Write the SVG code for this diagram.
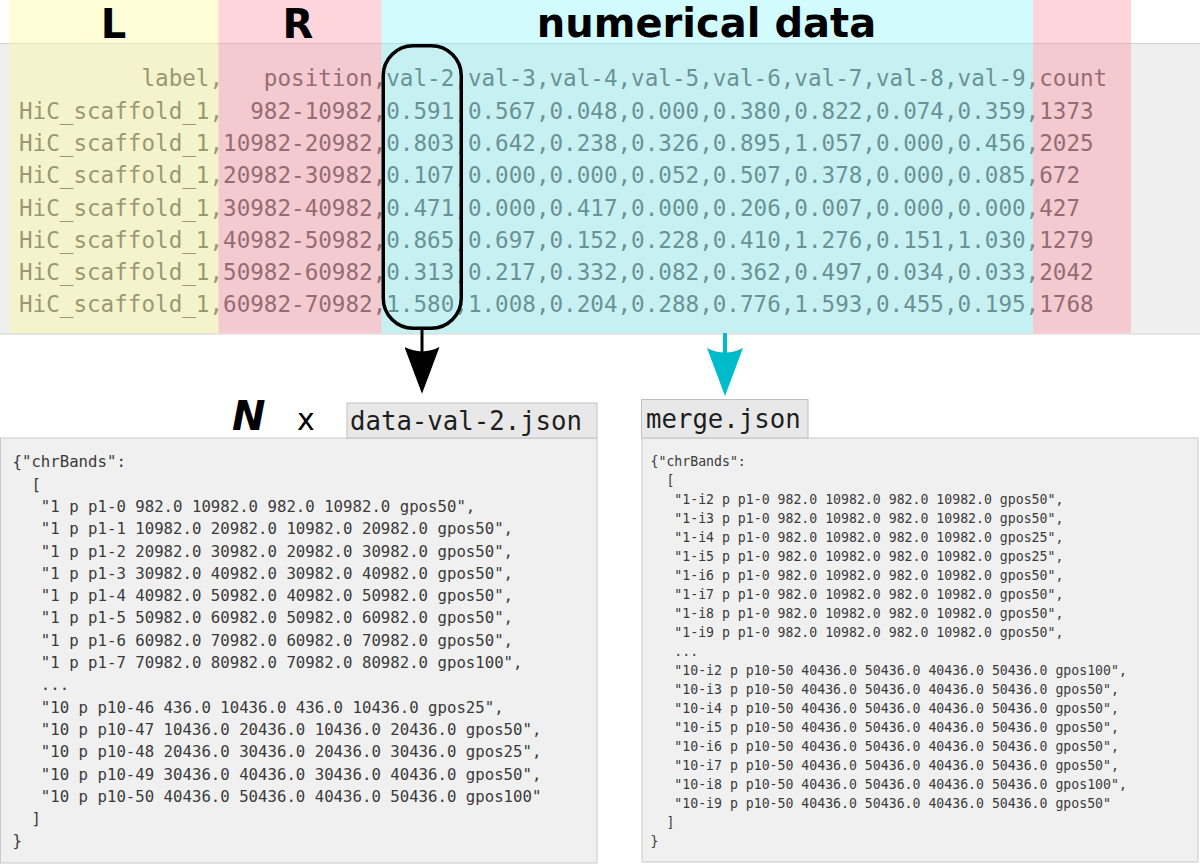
<svg xmlns="http://www.w3.org/2000/svg" width="1200" height="864" viewBox="0 0 1200 864">
<style>
.hdr{font-family:"DejaVu Sans",Verdana,sans-serif;font-weight:bold;font-size:40px;fill:#000}
.tbl text{font-family:"DejaVu Sans Mono",monospace;font-size:22.6px;fill:#5e5e5e;white-space:pre}
.codeL text{font-family:"DejaVu Sans Mono",monospace;font-size:15.7px;fill:#3a3a3a;white-space:pre}
.codeR text{font-family:"DejaVu Sans Mono",monospace;font-size:13.2px;fill:#3a3a3a;white-space:pre}
.tabt{font-family:"DejaVu Sans Mono",monospace;font-size:25.7px;fill:#1e1e1e}
.box{fill:#f0f0f0;stroke:#c9c9c9;stroke-width:1}
.tab{fill:#e8e8e8;stroke:#c0c0c0;stroke-width:1}
</style>
<defs>
<marker id="headK" viewBox="0 0 48 36" refX="39" refY="18" markerWidth="48" markerHeight="35" markerUnits="userSpaceOnUse" orient="auto">
<path d="M0,0 L48,18 L0,36 Q9,18 0,0 Z" fill="#000"/>
</marker>
<marker id="headC" viewBox="0 0 48 36" refX="39" refY="18" markerWidth="48" markerHeight="36" markerUnits="userSpaceOnUse" orient="auto">
<path d="M0,0 L48,18 L0,36 Q9,18 0,0 Z" fill="#00bccb"/>
</marker>
</defs>
<rect width="1200" height="864" fill="#ffffff"/>

<g id="table">
<rect x="-1" y="43.5" width="1202" height="290.5" fill="#efefef" stroke="#d2d2d2" stroke-width="1"/>
<g class="tbl">
<text xml:space="preserve" x="19" y="86.3">         label,   position,val-2,val-3,val-4,val-5,val-6,val-7,val-8,val-9,count</text>
<text xml:space="preserve" x="19" y="118.6">HiC_scaffold_1,  982-10982,0.591,0.567,0.048,0.000,0.380,0.822,0.074,0.359,1373</text>
<text xml:space="preserve" x="19" y="150.9">HiC_scaffold_1,10982-20982,0.803,0.642,0.238,0.326,0.895,1.057,0.000,0.456,2025</text>
<text xml:space="preserve" x="19" y="183.2">HiC_scaffold_1,20982-30982,0.107,0.000,0.000,0.052,0.507,0.378,0.000,0.085,672</text>
<text xml:space="preserve" x="19" y="215.5">HiC_scaffold_1,30982-40982,0.471,0.000,0.417,0.000,0.206,0.007,0.000,0.000,427</text>
<text xml:space="preserve" x="19" y="247.8">HiC_scaffold_1,40982-50982,0.865,0.697,0.152,0.228,0.410,1.276,0.151,1.030,1279</text>
<text xml:space="preserve" x="19" y="280.1">HiC_scaffold_1,50982-60982,0.313,0.217,0.332,0.082,0.362,0.497,0.034,0.033,2042</text>
<text xml:space="preserve" x="19" y="312.4">HiC_scaffold_1,60982-70982,1.580,1.008,0.204,0.288,0.776,1.593,0.455,0.195,1768</text>
</g>
</g>

<g id="column-L">
<rect x="9.5" y="0" width="209" height="333" fill="rgb(252,249,143)" fill-opacity="0.375"/>
<text class="hdr" x="113.5" y="37.5" text-anchor="middle">L</text>
</g>
<g id="column-R">
<rect x="218.5" y="0" width="163" height="333" fill="rgb(249,135,152)" fill-opacity="0.35"/>
<rect x="1033" y="0" width="98" height="333" fill="rgb(249,135,152)" fill-opacity="0.35"/>
<text class="hdr" x="298" y="37.5" text-anchor="middle">R</text>
</g>
<g id="column-numerical">
<rect x="381.5" y="0" width="651.5" height="333" fill="rgb(126,243,249)" fill-opacity="0.35"/>
<text class="hdr" x="706.5" y="36.5" text-anchor="middle">numerical data</text>
</g>

<g id="val2-highlight">
<rect x="383.25" y="45.75" width="78" height="282.5" rx="30" ry="30" fill="none" stroke="#000" stroke-width="3.5"/>
</g>

<g id="connectors">
<line x1="422" y1="330" x2="422" y2="385" stroke="#000" stroke-width="3" marker-end="url(#headK)"/>
<line x1="725" y1="333" x2="725" y2="387" stroke="#00bccb" stroke-width="4" marker-end="url(#headC)"/>
</g>

<g id="multiplier">
<text x="232" y="430" font-family="DejaVu Sans,Verdana,sans-serif" font-weight="bold" font-style="italic" font-size="40" fill="#000">N</text>
<text x="297" y="430" font-family="DejaVu Sans,Verdana,sans-serif" font-size="30" fill="#000">x</text>
</g>

<g id="data-val-2-json">
<rect class="box" x="0.5" y="438" width="596.5" height="425"/>
<rect class="tab" x="347" y="403" width="250" height="35"/>
<text class="tabt" x="350" y="430">data-val-2.json</text>
<g class="codeL">
<text xml:space="preserve" x="12.5" y="467.3">{"chrBands":</text>
<text xml:space="preserve" x="12.5" y="489.6">  [</text>
<text xml:space="preserve" x="12.5" y="511.9">   "1 p p1-0 982.0 10982.0 982.0 10982.0 gpos50",</text>
<text xml:space="preserve" x="12.5" y="534.2">   "1 p p1-1 10982.0 20982.0 10982.0 20982.0 gpos50",</text>
<text xml:space="preserve" x="12.5" y="556.5">   "1 p p1-2 20982.0 30982.0 20982.0 30982.0 gpos50",</text>
<text xml:space="preserve" x="12.5" y="578.8">   "1 p p1-3 30982.0 40982.0 30982.0 40982.0 gpos50",</text>
<text xml:space="preserve" x="12.5" y="601.1">   "1 p p1-4 40982.0 50982.0 40982.0 50982.0 gpos50",</text>
<text xml:space="preserve" x="12.5" y="623.4">   "1 p p1-5 50982.0 60982.0 50982.0 60982.0 gpos50",</text>
<text xml:space="preserve" x="12.5" y="645.7">   "1 p p1-6 60982.0 70982.0 60982.0 70982.0 gpos50",</text>
<text xml:space="preserve" x="12.5" y="668.0">   "1 p p1-7 70982.0 80982.0 70982.0 80982.0 gpos100",</text>
<text xml:space="preserve" x="12.5" y="690.3">   ...</text>
<text xml:space="preserve" x="12.5" y="712.6">   "10 p p10-46 436.0 10436.0 436.0 10436.0 gpos25",</text>
<text xml:space="preserve" x="12.5" y="734.9">   "10 p p10-47 10436.0 20436.0 10436.0 20436.0 gpos50",</text>
<text xml:space="preserve" x="12.5" y="757.2">   "10 p p10-48 20436.0 30436.0 20436.0 30436.0 gpos25",</text>
<text xml:space="preserve" x="12.5" y="779.5">   "10 p p10-49 30436.0 40436.0 30436.0 40436.0 gpos50",</text>
<text xml:space="preserve" x="12.5" y="801.8">   "10 p p10-50 40436.0 50436.0 40436.0 50436.0 gpos100"</text>
<text xml:space="preserve" x="12.5" y="824.1">  ]</text>
<text xml:space="preserve" x="12.5" y="846.4">}</text>
</g>
</g>

<g id="merge-json">
<rect class="box" x="642" y="438" width="556" height="424"/>
<rect class="tab" x="641.5" y="399.5" width="166.5" height="38.5"/>
<text class="tabt" x="646" y="427.5" font-size="25.5">merge.json</text>
<g class="codeR">
<text xml:space="preserve" x="650.5" y="466">{"chrBands":</text>
<text xml:space="preserve" x="650.5" y="485">  [</text>
<text xml:space="preserve" x="650.5" y="504">   "1-i2 p p1-0 982.0 10982.0 982.0 10982.0 gpos50",</text>
<text xml:space="preserve" x="650.5" y="523">   "1-i3 p p1-0 982.0 10982.0 982.0 10982.0 gpos50",</text>
<text xml:space="preserve" x="650.5" y="542">   "1-i4 p p1-0 982.0 10982.0 982.0 10982.0 gpos25",</text>
<text xml:space="preserve" x="650.5" y="561">   "1-i5 p p1-0 982.0 10982.0 982.0 10982.0 gpos25",</text>
<text xml:space="preserve" x="650.5" y="580">   "1-i6 p p1-0 982.0 10982.0 982.0 10982.0 gpos50",</text>
<text xml:space="preserve" x="650.5" y="599">   "1-i7 p p1-0 982.0 10982.0 982.0 10982.0 gpos50",</text>
<text xml:space="preserve" x="650.5" y="618">   "1-i8 p p1-0 982.0 10982.0 982.0 10982.0 gpos50",</text>
<text xml:space="preserve" x="650.5" y="637">   "1-i9 p p1-0 982.0 10982.0 982.0 10982.0 gpos50",</text>
<text xml:space="preserve" x="650.5" y="656">   ...</text>
<text xml:space="preserve" x="650.5" y="675">   "10-i2 p p10-50 40436.0 50436.0 40436.0 50436.0 gpos100",</text>
<text xml:space="preserve" x="650.5" y="694">   "10-i3 p p10-50 40436.0 50436.0 40436.0 50436.0 gpos50",</text>
<text xml:space="preserve" x="650.5" y="713">   "10-i4 p p10-50 40436.0 50436.0 40436.0 50436.0 gpos50",</text>
<text xml:space="preserve" x="650.5" y="732">   "10-i5 p p10-50 40436.0 50436.0 40436.0 50436.0 gpos50",</text>
<text xml:space="preserve" x="650.5" y="751">   "10-i6 p p10-50 40436.0 50436.0 40436.0 50436.0 gpos50",</text>
<text xml:space="preserve" x="650.5" y="770">   "10-i7 p p10-50 40436.0 50436.0 40436.0 50436.0 gpos50",</text>
<text xml:space="preserve" x="650.5" y="789">   "10-i8 p p10-50 40436.0 50436.0 40436.0 50436.0 gpos100",</text>
<text xml:space="preserve" x="650.5" y="808">   "10-i9 p p10-50 40436.0 50436.0 40436.0 50436.0 gpos50"</text>
<text xml:space="preserve" x="650.5" y="827">  ]</text>
<text xml:space="preserve" x="650.5" y="846">}</text>
</g>
</g>
</svg>
